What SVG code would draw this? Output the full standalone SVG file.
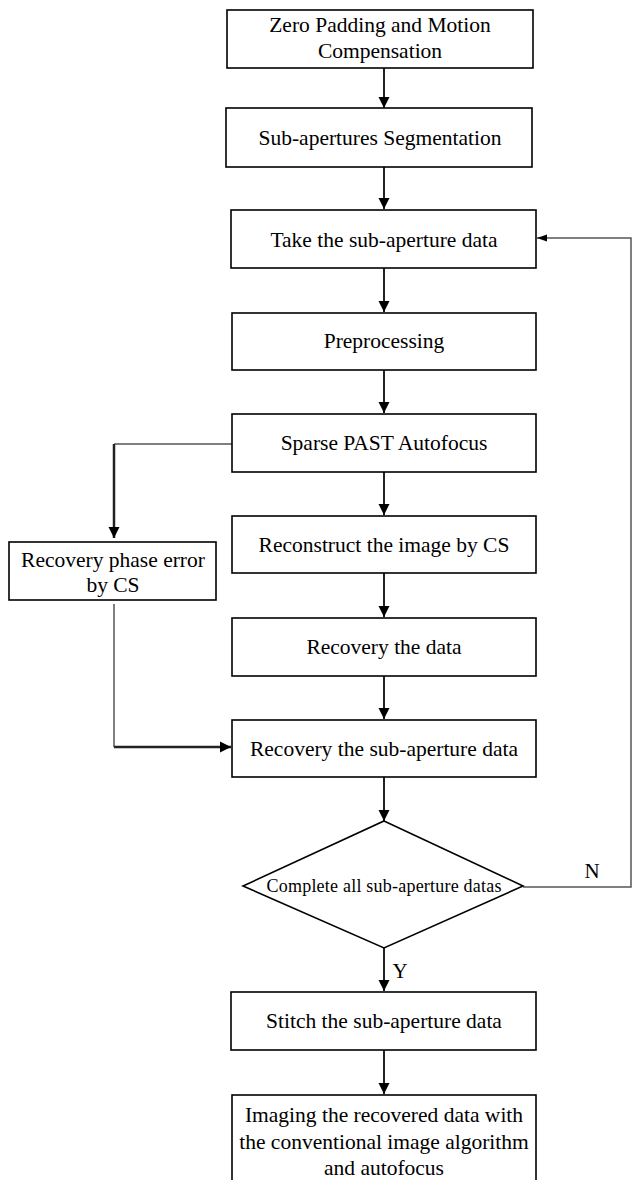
<svg xmlns="http://www.w3.org/2000/svg" width="633" height="1180" viewBox="0 0 633 1180">
<defs>
<style>
.box{fill:#fff;stroke:#000;stroke-width:1.6}
.t{font-family:"Liberation Serif","Times New Roman",serif;font-size:21.5px;fill:#000;text-anchor:middle}
.s{font-family:"Liberation Serif","Times New Roman",serif;font-size:18px;fill:#000;text-anchor:middle}
.l{font-family:"Liberation Serif","Times New Roman",serif;font-size:21px;fill:#000;text-anchor:middle}
.c{fill:none;stroke:#222;stroke-width:2}
.g{fill:none;stroke:#555;stroke-width:1.5}
</style>
<marker id="ah" markerUnits="userSpaceOnUse" markerWidth="13" markerHeight="13" viewBox="0 0 13 13" refX="12" refY="6.5" orient="auto">
<path d="M1,1 L12,6.5 L1,12 Z" fill="#000"/>
</marker>
<marker id="ahs" markerUnits="userSpaceOnUse" markerWidth="10" markerHeight="10" viewBox="0 0 10 10" refX="10" refY="5" orient="auto">
<path d="M0,1.5 L10,5 L0,8.5 Z" fill="#000"/>
</marker>
</defs>
<rect width="633" height="1180" fill="#fff"/>
<g id="connectors">
<line class="c" x1="384" y1="68" x2="384" y2="108" marker-end="url(#ah)"/>
<line class="c" x1="384" y1="167" x2="384" y2="209" marker-end="url(#ah)"/>
<line class="c" x1="384" y1="268" x2="384" y2="312" marker-end="url(#ah)"/>
<line class="c" x1="384" y1="370" x2="384" y2="413" marker-end="url(#ah)"/>
<line class="c" x1="384" y1="472" x2="384" y2="515" marker-end="url(#ah)"/>
<line class="c" x1="384" y1="573" x2="384" y2="617" marker-end="url(#ah)"/>
<line class="c" x1="384" y1="676" x2="384" y2="719" marker-end="url(#ah)"/>
<line class="c" x1="384" y1="777" x2="384" y2="821" marker-end="url(#ah)"/>
<line class="c" x1="384" y1="948" x2="384" y2="991" marker-end="url(#ah)"/>
<line class="c" x1="384" y1="1050" x2="384" y2="1094" marker-end="url(#ah)"/>
<path class="g" d="M232,444 H114"/>
<path class="c" d="M114,444 V538" style="stroke-width:2.5" marker-end="url(#ah)"/>
<path class="g" d="M114,604 V747"/>
<path class="c" d="M114,747 H231" style="stroke-width:2.5" marker-end="url(#ah)"/>
<path class="g" d="M523,887 H631 V238 H537" marker-end="url(#ahs)"/>
<text class="l" x="592" y="878">N</text>
<text class="l" x="400" y="978">Y</text>
</g>
<g id="n1"><rect class="box" x="227" y="10" width="306" height="58"/>
<text class="t" x="380" y="32">Zero Padding and Motion</text>
<text class="t" x="380" y="58">Compensation</text></g>
<g id="n2"><rect class="box" x="226" y="108" width="306" height="59"/>
<text class="t" x="380" y="145">Sub-apertures Segmentation</text></g>
<g id="n3"><rect class="box" x="231" y="210" width="305" height="58"/>
<text class="t" x="384" y="247">Take the sub-aperture data</text></g>
<g id="n4"><rect class="box" x="232" y="313" width="304" height="57"/>
<text class="t" x="384" y="348">Preprocessing</text></g>
<g id="n5"><rect class="box" x="232" y="414" width="304" height="58"/>
<text class="t" x="384" y="450">Sparse PAST Autofocus</text></g>
<g id="n6"><rect class="box" x="232" y="516" width="304" height="57"/>
<text class="t" x="384" y="552">Reconstruct the image by CS</text></g>
<g id="n7"><rect class="box" x="232" y="618" width="304" height="58"/>
<text class="t" x="384" y="654">Recovery the data</text></g>
<g id="n8"><rect class="box" x="232" y="720" width="304" height="57"/>
<text class="t" x="384" y="756">Recovery the sub-aperture data</text></g>
<g id="n9"><rect class="box" x="9" y="542" width="207" height="58"/>
<text class="t" x="113" y="567">Recovery phase error</text>
<text class="t" x="113" y="592">by CS</text></g>
<g id="n10"><polygon class="box" points="384,821 523,886 384,948 243,886"/>
<text class="s" x="384" y="892" textLength="235" lengthAdjust="spacing">Complete all sub-aperture datas</text></g>
<g id="n11"><rect class="box" x="231" y="992" width="305" height="58"/>
<text class="t" x="384" y="1028">Stitch the sub-aperture data</text></g>
<g id="n12"><rect class="box" x="232" y="1095" width="304" height="100"/>
<text class="t" x="384" y="1122">Imaging the recovered data with</text>
<text class="t" x="384" y="1149">the conventional image algorithm</text>
<text class="t" x="384" y="1175">and autofocus</text></g>
</svg>
